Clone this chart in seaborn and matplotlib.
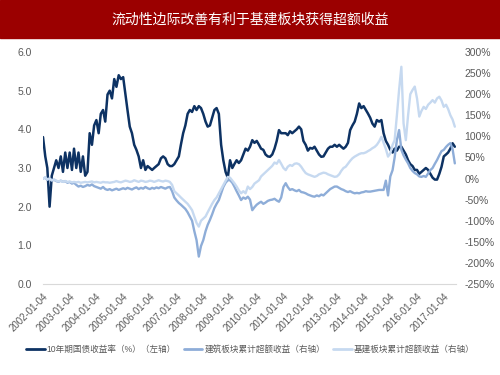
import pandas as pd
import seaborn as sns
import matplotlib.pyplot as plt
import matplotlib.dates as mdates
from matplotlib.patches import Rectangle
from matplotlib.lines import Line2D
from matplotlib.ticker import FuncFormatter

# 月度数据（2002-01 至 2017-06）
yield_10y = [
    3.8, 3.3, 3.0, 2.0, 2.8, 3.0, 3.2, 3.0, 3.3, 2.9, 3.4, 3.0,
    3.4, 2.95, 3.5, 3.0, 3.4, 2.9, 3.3, 2.8, 2.9, 3.9, 3.6, 4.1,
    4.24, 3.9, 4.4, 4.5, 4.2, 4.9, 5.0, 4.8, 5.3, 5.1, 5.4, 5.3,
    5.35, 4.9, 4.5, 4.07, 3.9, 3.6, 3.47, 3.3, 3.0, 3.2, 2.95, 3.05,
    3.0, 2.95, 3.0, 3.05, 3.1, 3.25, 3.3, 3.25, 3.1, 3.05, 3.05, 3.1,
    3.2, 3.3, 3.6, 3.9, 4.1, 4.4, 4.5, 4.45, 4.6, 4.5, 4.6, 4.55,
    4.4, 4.2, 4.07, 4.1, 4.3, 4.5, 4.55, 4.4, 3.6, 3.2, 2.9, 2.75,
    3.2, 3.0, 3.1, 3.2, 3.13, 3.2, 3.35, 3.5, 3.45, 3.55, 3.72, 3.65,
    3.7, 3.6, 3.5, 3.47, 3.35, 3.3, 3.29, 3.35, 3.5, 3.7, 3.98, 3.9,
    3.9, 3.9, 3.85, 3.95, 3.9, 3.95, 4.0, 4.07, 4.0, 3.7, 3.6, 3.45,
    3.52, 3.5, 3.55, 3.45, 3.35, 3.29, 3.3, 3.4, 3.5, 3.55, 3.55, 3.6,
    3.55, 3.6, 3.55, 3.5, 3.55, 3.65, 3.98, 4.1, 4.2, 4.4, 4.67, 4.55,
    4.6, 4.5, 4.41, 4.3, 4.15, 4.07, 4.24, 4.2, 4.24, 3.9, 3.7, 3.6,
    3.47, 3.4, 3.5, 3.45, 3.55, 3.55, 3.45, 3.35, 3.2, 3.1, 3.05, 2.95,
    2.95, 2.85, 2.9, 2.95, 3.0, 2.95, 2.85, 2.75, 2.7, 2.7, 2.85, 3.03,
    3.3, 3.35, 3.4, 3.5, 3.64, 3.55,
]

construction = [
    0, 2, -3, 0, -5, -3, -6, -8, -5, -8, -6, -10,
    -8, -12, -10, -15, -19, -17, -20, -18, -15, -17, -14, -18,
    -20, -22, -24, -20, -25, -27, -25, -28, -26, -24, -27, -25,
    -23, -25, -22, -24, -26, -23, -21, -25, -22, -24, -20, -23,
    -25, -22, -24, -21, -23, -20, -22, -24, -21, -20, -30, -45,
    -52, -58, -62, -67, -72, -80, -90, -100, -125, -146, -185, -160,
    -146, -125, -110, -98, -85, -70, -60, -51, -35, -20, -10, -4,
    -4, -10, -19, -30, -40, -51, -45, -48, -43, -50, -75, -68,
    -62, -58, -55, -60, -57, -53, -51, -50, -48, -52, -55, -45,
    -20, -11, -20, -27, -25, -28, -30, -27, -32, -33, -35, -38,
    -40, -42, -43, -40, -42, -38, -40, -35, -30, -25, -22, -19,
    -19, -22, -25, -27, -30, -32, -30, -33, -35, -34, -35, -33,
    -32, -30, -31, -31, -30, -29, -28, -27, -27, -27, -5, -40,
    5, 20, 50, 91, 115, 68, 55, 45, 36, 25, 18, 13,
    10, 5, 4, 6, 4, 12, 20, 25, 35, 44, 55, 65,
    68, 75, 80, 84, 70, 36,
]

infrastructure = [
    0, 3, -2, 0, -4, -2, -5, -7, -5, -8, -6, -8,
    -7, -9, -8, -9, -8, -10, -9, -8, -9, -8, -7, -9,
    -8, -9, -10, -8, -9, -9, -10, -9, -8, -6, -8, -9,
    -7, -5, -6, -8, -7, -4, -6, -8, -5, -6, -8, -7,
    -5, -6, -8, -6, -4, -6, -7, -5, -6, -8, -15, -30,
    -35, -40, -45, -50, -55, -60, -67, -75, -90, -105, -114, -100,
    -95, -90, -80, -70, -60, -51, -45, -35, -25, -15, -5, 4,
    2, -5, -11, -19, -28, -35, -30, -35, -19, -25, -20, -12,
    -8, -4, 5, 10, 15, 20, 25, 30, 38, 35, 44, 35,
    25, 20, 28, 32, 30, 35, 36, 34, 28, 20, 13, 10,
    8, 6, 4, 6, 10, 12, 14, 13, 10, 8, 6, 4,
    5, 10, 18, 25, 28, 35, 42, 48, 52, 55, 58, 60,
    60, 62, 65, 68, 72, 75, 80, 88, 99, 85, 70, 52,
    60, 80, 91, 150, 210, 265, 131, 91, 150, 200, 210, 218,
    190, 147, 160, 170, 165, 175, 180, 186, 180, 190, 194, 185,
    170, 175, 165, 150, 140, 123,
]

labels = ['10年期国债收益率（%）（左轴）', '建筑板块累计超额收益（右轴）', '基建板块累计超额收益（右轴）']
colors = ['#0d3263', '#8eadd8', '#c6d9f0']

dates = pd.date_range('2002-01-01', periods=len(yield_10y), freq='MS') + pd.Timedelta(days=3)
df = pd.DataFrame({'date': dates, 'yield': yield_10y,
                   'construction': construction, 'infra': infrastructure})

sns.set_style('white')
plt.rcParams['font.family'] = ['Liberation Sans', 'Noto Sans CJK SC', 'DejaVu Sans']

fig = plt.figure(figsize=(5, 3.75), dpi=100)
ax = fig.add_axes([0.086, 0.2427, 0.826, 0.6186])
ax2 = ax.twinx()

sns.lineplot(data=df, x='date', y='yield', ax=ax, color=colors[0], linewidth=1.8)
sns.lineplot(data=df, x='date', y='construction', ax=ax2, color=colors[1], linewidth=1.7)
sns.lineplot(data=df, x='date', y='infra', ax=ax2, color=colors[2], linewidth=1.7)

ax.set_ylim(0, 6)
ax.set_yticks([0, 1, 2, 3, 4, 5, 6])
ax.yaxis.set_major_formatter(FuncFormatter(lambda v, p: f'{v:.1f}'))
ax2.set_ylim(-250, 300)
ax2.set_yticks(range(-250, 301, 50))
ax2.yaxis.set_major_formatter(FuncFormatter(lambda v, p: f'{int(v)}%'))

ax.set_xlim(pd.Timestamp('2002-01-04'), pd.Timestamp('2017-06-20'))
ticks = [pd.Timestamp(f'{y}-01-04') for y in range(2002, 2018)]
ax.set_xticks(ticks)
ax.xaxis.set_major_formatter(mdates.DateFormatter('%Y-%m-%d'))
for t in ax.get_xticklabels():
    t.set_rotation(45)
    t.set_ha('right')
    t.set_rotation_mode('anchor')

for a in (ax, ax2):
    for s in a.spines.values():
        s.set_visible(False)
    a.set_xlabel('')
    a.set_ylabel('')
    a.grid(False)
ax.spines['bottom'].set_visible(True)
ax.spines['bottom'].set_color('#d9d9d9')
ax.tick_params(axis='x', colors='#595959', labelsize=7, length=3, width=0.8,
               direction='out', pad=2, color='#d9d9d9')
ax.tick_params(axis='y', colors='#595959', labelsize=7.5, length=0, pad=8)
ax2.tick_params(axis='y', colors='#595959', labelsize=7.5, length=0, pad=6)

# 标题栏
fig.patches.append(Rectangle((0, 0.899), 1, 0.101, transform=fig.transFigure,
                             color='#9b0000', zorder=0))
fig.text(0.5, 0.949, '流动性边际改善有利于基建板块获得超额收益', color='white',
         fontsize=10, ha='center', va='center',
         family=['Noto Sans CJK SC', 'DejaVu Sans'])

handles = [Line2D([], [], color=c, linewidth=2) for c in colors]
fig.legend(handles, labels, loc='center', bbox_to_anchor=(0.5, 0.069), ncol=3,
           frameon=False, fontsize=6.2, handlelength=2.2, columnspacing=0.9,
           handletextpad=0.2, labelcolor='#595959')

fig.savefig('out.png', dpi=100)
